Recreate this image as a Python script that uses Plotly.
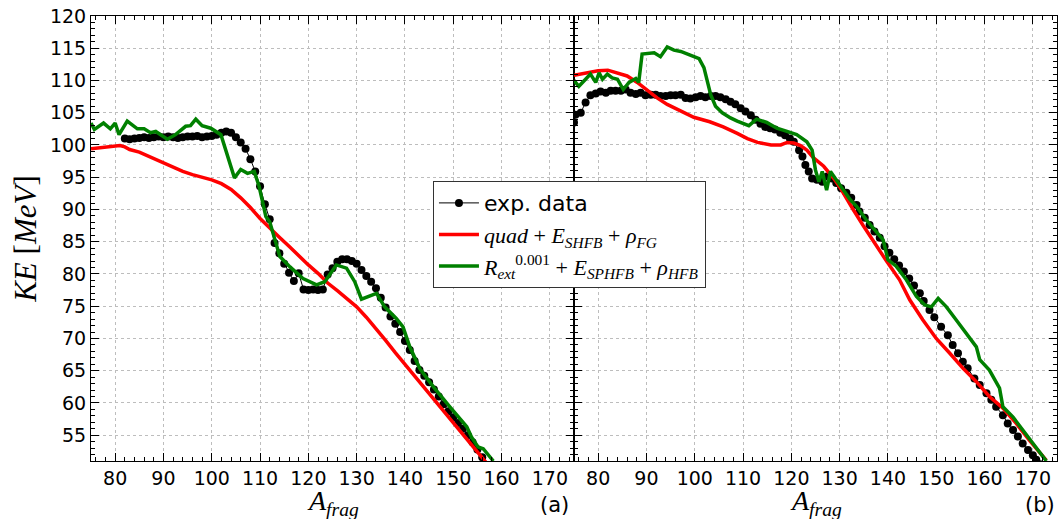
import plotly.graph_objects as go

# ---------------- data: panel (a) ----------------
a_exp_A = [82, 83, 84, 85, 86, 87, 88, 89, 90, 91, 92, 93, 94, 95, 96, 97, 98, 99, 100,
           101, 102, 103, 104, 105, 106, 107, 108, 109, 110, 111, 112, 113, 114, 115, 116,
           117, 118, 119, 120, 121, 122, 123, 124, 125, 126, 127, 128, 129, 130, 131, 132,
           133, 134, 135, 136, 137, 138, 139, 140, 141, 142, 143, 144, 145, 146, 147, 148,
           149, 150, 151, 152, 153, 154, 155, 156]
a_exp_KE = [101.0, 100.9, 101.0, 101.1, 101.2, 101.1, 101.2, 101.3, 101.2, 101.3, 101.2,
            101.1, 101.2, 101.3, 101.3, 101.4, 101.2, 101.3, 101.4, 101.6, 101.9, 102.1,
            101.9, 101.2, 100.4, 99.4, 97.8, 95.9, 93.6, 90.8, 88.5, 84.8, 83.2, 81.6, 80.2,
            78.9, 80.1, 77.6, 77.5, 77.6, 77.5, 77.6, 79.9, 80.9, 81.9, 82.3, 82.3, 82.0,
            81.6, 80.6, 79.7, 78.8, 77.8, 76.3, 74.8, 73.4, 72.3, 71.0, 69.6, 68.2, 66.5,
            65.1, 64.2, 63.2, 62.1, 61.0, 59.8, 58.7, 57.8, 56.9, 56.0, 55.0, 53.9, 52.8, 51.6]

a_red_A = [75, 77, 79, 81, 82, 83, 85, 87, 89, 90, 92, 94, 96, 98, 100, 102, 104, 106, 108,
           110, 112, 114, 116, 118, 120, 122, 124, 126, 128, 130, 132, 134, 136, 138, 140,
           142, 144, 146, 148, 150, 152, 154, 156, 157]
a_red_KE = [99.4, 99.6, 99.8, 99.9, 99.7, 99.3, 98.9, 98.2, 97.6, 97.2, 96.5, 95.9, 95.4,
            95.0, 94.6, 94.0, 93.1, 91.8, 90.3, 88.6, 87.1, 85.7, 84.3, 82.8, 81.4, 80.1,
            78.6, 77.4, 76.2, 74.9, 73.3, 71.6, 69.7, 67.8, 66.0, 64.2, 62.4, 60.6, 58.8,
            57.0, 55.2, 53.4, 51.5, 50.6]

a_grn_A = [75, 75.7, 77.6, 79, 80, 80.8, 82.5, 84.6, 86, 87.3, 88.4, 90.8, 92.5, 94.6,
           95.6, 96.7, 98, 99.8, 101.9, 104.7, 106, 107.4, 108.8, 109.8, 111.2, 112, 114.1,
           116.2, 118.9, 121.7, 123.4, 125.8, 127.9, 129.6, 131, 134.1, 135.8, 138.2,
           139.6, 141.0, 143.1, 145.9, 149.3, 152.8, 153.8, 155.1, 156.2, 157.6, 158.3]
a_grn_KE = [103.4, 102.4, 103.4, 102.5, 103.4, 101.6, 103.7, 102.5, 102.5, 101.9, 102.1,
            100.9, 101.6, 102.9, 103.0, 104.0, 103.0, 102.6, 101.6, 94.9, 96.2, 95.6, 95.9,
            93.6, 88.9, 88.1, 82.7, 81.1, 79.3, 78.3, 78.8, 81.4, 80.9, 78.8, 76.1, 77.0,
            74.9, 73.1, 71.8, 68.7, 65.3, 62.5, 59.4, 56.3, 54.7, 53.2, 52.9, 51.6, 51.0]

# ---------------- data: panel (b) ----------------
b_exp_A = [75.0, 75.3, 76.4, 77.4, 78.4, 79.5, 80.5, 81.6, 82.6, 83.6, 84.7, 85.7, 86.7,
           87.8, 88.8, 89.8, 90.9, 91.9, 92.9, 94.0, 95.0, 96.0, 97.1, 98.1, 99.1, 100.2,
           101.2, 102.2, 103.3, 104.3, 105.3, 106.4, 107.4, 108.4, 109.5, 110.5, 111.6,
           112.6, 113.6, 114.6, 115.6, 116.6, 117.7, 118.7, 119.7, 120.5, 121.6, 122.3,
           122.9, 123.6, 124.3, 125.3, 126.4, 127.4, 128.4, 129.3, 130.3, 131.4, 132.4,
           133.5, 134.1, 135.2, 136.2, 137.2, 138.3, 139.3, 140.3, 141.3, 142.3, 143.3,
           144.4, 145.4, 146.6, 147.4, 148.6, 149.6, 151.0, 152.4, 153.4, 154.5, 155.5,
           156.5, 157.9, 159.0, 160.4, 161.4, 162.4, 163.8, 164.8, 165.9, 166.9, 167.9,
           169.0, 170.0, 170.7, 171.5]
b_exp_KE = [103.5, 104.7, 105.0, 106.6, 107.7, 108.0, 108.3, 108.1, 108.4, 108.4, 108.4,
            108.6, 108.1, 107.9, 108.1, 107.7, 107.8, 107.8, 107.6, 107.6, 107.7, 107.7,
            107.8, 107.3, 107.2, 107.4, 107.6, 107.4, 107.6, 107.6, 107.4, 107.1, 106.7,
            106.3, 105.7, 105.2, 104.6, 103.9, 103.3, 102.8, 102.6, 102.4, 101.9, 101.5,
            101.0, 100.5, 99.2, 98.2, 96.9, 95.9, 94.8, 94.6, 94.3, 95.1, 94.8, 94.1, 93.3,
            92.6, 91.8, 90.7, 89.7, 88.7, 87.6, 86.6, 85.6, 84.3, 83.3, 82.3, 81.3, 80.4,
            79.3, 78.2, 77.0, 75.8, 74.4, 73.3, 71.8, 70.5, 69.0, 67.7, 66.4, 65.4, 63.8,
            62.8, 61.5, 60.5, 59.4, 58.1, 56.8, 55.8, 54.8, 53.7, 52.7, 51.9, 51.2, 50.5]

b_red_A = [75.0, 77.8, 80.0, 82.0, 84.0, 86.0, 88.1, 90.2, 92.2, 94.3, 97.1, 99.8, 103.1,
           105.9, 108.8, 110.9, 113.0, 115.8, 117.8, 119.1, 120.5, 121.9, 123.2, 124.6,
           126.7, 128.8, 130.0, 131.0, 132.8, 134.8, 136.9, 139.7, 142.4, 144.5, 147.2,
           150.0, 152.8, 155.5, 158.3, 161.0, 163.8, 166.6, 169.3, 172.8]
b_red_KE = [110.8, 111.2, 111.5, 111.6, 111.2, 110.7, 109.7, 108.5, 107.3, 106.3, 105.3,
            104.3, 103.6, 102.8, 101.8, 101.0, 100.4, 100.0, 100.0, 100.4, 100.3, 99.9,
            99.2, 98.0, 96.7, 94.8, 93.5, 92.2, 90.0, 87.6, 85.1, 82.0, 79.1, 76.0, 72.9,
            70.0, 67.7, 65.4, 63.3, 61.0, 59.2, 56.8, 54.2, 51.1]

b_grn_A = [75.0, 76.0, 77.4, 78.4, 79.5, 80.2, 80.9, 81.9, 82.9, 84.0, 85.2, 86.4, 87.8,
           88.4, 89.1, 91.6, 92.9, 94.3, 95.7, 97.1, 98.8, 100.9, 101.9, 102.6, 103.3,
           104.3, 105.7, 107.4, 108.8, 111.2, 112.8, 114.9, 117.0, 119.1, 121.1, 123.2,
           124.3, 125.0, 125.7, 126.4, 127.3, 128.1, 129.5, 130.8, 132.2, 133.5, 135.5,
           137.6, 139.0, 140.0, 141.7, 143.8, 145.9, 147.6, 149.0, 150.4, 150.7, 152.1,
           154.1, 156.2, 158.3, 159.0, 161.0, 163.1, 163.8, 165.9, 167.9, 170.0, 172.1,
           172.8]
b_grn_KE = [110.0, 109.1, 110.2, 111.0, 109.7, 111.2, 110.2, 111.0, 110.4, 110.2, 108.6,
            109.7, 110.3, 109.7, 114.1, 114.3, 113.7, 115.2, 114.7, 114.5, 114.0, 113.4,
            112.0, 109.9, 107.8, 106.0, 105.0, 104.2, 103.7, 103.0, 104.0, 103.5, 102.6,
            102.1, 101.6, 100.5, 99.2, 96.1, 94.3, 95.9, 93.0, 95.9, 94.3, 93.0, 91.5, 90.5,
            88.4, 86.6, 85.3, 82.2, 81.2, 79.1, 76.5, 75.2, 74.9, 76.2, 76.0, 74.9, 72.9,
            70.8, 68.7, 66.7, 65.1, 62.3, 59.4, 57.8, 55.8, 53.7, 51.6, 51.0]

names = ["<span style='font-family:DejaVu Sans'>exp. data</span>",
         "<i>quad</i> + <i>E</i><sub><i>SHFB</i></sub> + <i>ρ</i><sub><i>FG</i></sub>",
         "<i>R</i><sub><i>ext</i></sub><sup>0.001</sup> + <i>E</i><sub><i>SPHFB</i></sub> + <i>ρ</i><sub><i>HFB</i></sub>"]
x_ticks = [80, 90, 100, 110, 120, 130, 140, 150, 160, 170]
y_ticks = [55, 60, 65, 70, 75, 80, 85, 90, 95, 100, 105, 110, 115, 120]

RED = "#ff0000"
GREEN = "#008000"

fig = go.Figure()

for xa, (eA, eK, rA, rK, gA, gK) in zip(
        ["x", "x2"],
        [(a_exp_A, a_exp_KE, a_red_A, a_red_KE, a_grn_A, a_grn_KE),
         (b_exp_A, b_exp_KE, b_red_A, b_red_KE, b_grn_A, b_grn_KE)]):
    show = xa == "x"
    ya = "y" if xa == "x" else "y2"
    fig.add_trace(go.Scatter(x=eA, y=eK, mode="lines+markers", name=names[0],
                             line=dict(color="black", width=1),
                             marker=dict(color="black", size=8),
                             xaxis=xa, yaxis=ya, showlegend=show, legendrank=1))
    fig.add_trace(go.Scatter(x=rA, y=rK, mode="lines", name=names[1],
                             line=dict(color=RED, width=3.5),
                             xaxis=xa, yaxis=ya, showlegend=show, legendrank=2))
    fig.add_trace(go.Scatter(x=gA, y=gK, mode="lines", name=names[2],
                             line=dict(color=GREEN, width=3.5),
                             xaxis=xa, yaxis=ya, showlegend=show, legendrank=3))

tickfont = dict(family="DejaVu Sans", size=19, color="black")
GRID = "#bdbdbd"
xcommon = dict(range=[75, 175], tickvals=x_ticks, ticks="inside", ticklen=8,
               tickcolor="black", tickwidth=1, mirror="allticks", showline=True,
               linecolor="black", linewidth=1, showgrid=True, gridcolor=GRID,
               griddash="dot", gridwidth=1, zeroline=False, tickfont=tickfont,
               minor=dict(ticks="inside", ticklen=4, dtick=2, tick0=0, tickcolor="black",
                          showgrid=False))
ycommon = dict(range=[51, 120], tickvals=y_ticks, ticks="inside", ticklen=8,
               tickcolor="black", tickwidth=1, mirror="allticks", showline=True,
               linecolor="black", linewidth=1, showgrid=True, gridcolor=GRID,
               griddash="dot", gridwidth=1, zeroline=False, tickfont=tickfont,
               minor=dict(ticks="inside", ticklen=4, dtick=1, tick0=0, tickcolor="black",
                          showgrid=False))

fig.update_layout(
    width=1058, height=519,
    margin=dict(l=91, r=1, t=16, b=58),
    paper_bgcolor="white", plot_bgcolor="white",
    xaxis=dict(domain=[0, 0.5], anchor="y", **xcommon),
    xaxis2=dict(domain=[0.5, 1], anchor="y2", **xcommon),
    yaxis=dict(anchor="x", **ycommon),
    yaxis2=dict(anchor="x2", matches="y", showticklabels=False, **ycommon),
    legend=dict(x=0.354, y=0.629, xanchor="left", yanchor="top",
                bgcolor="white", bordercolor="#333333", borderwidth=1,
                font=dict(family="Liberation Serif", size=22, color="black"),
                itemwidth=40, tracegroupgap=0),
    showlegend=True,
)

fig.add_annotation(text="<i>KE</i> [<i>MeV</i>]", xref="paper", yref="paper",
                   x=-0.068, y=0.5, xanchor="center", yanchor="middle", textangle=-90,
                   showarrow=False, font=dict(family="Liberation Serif", size=31, color="black"))
for cx in [0.25, 0.75]:
    fig.add_annotation(text="<i>A</i><sub><i>frag</i></sub>", xref="paper", yref="paper",
                       x=cx, y=-0.05, xanchor="center", yanchor="top", showarrow=False,
                       font=dict(family="Liberation Serif", size=28, color="black"))
fig.add_annotation(text="(a)", xref="paper", yref="paper", x=0.48, y=-0.099,
                   xanchor="center", yanchor="middle", showarrow=False,
                   font=dict(family="DejaVu Sans", size=21, color="black"))
fig.add_annotation(text="(b)", xref="paper", yref="paper", x=0.982, y=-0.099,
                   xanchor="center", yanchor="middle", showarrow=False,
                   font=dict(family="DejaVu Sans", size=21, color="black"))

fig.write_html("out.html", config={"displayModeBar": False},
               post_script="document.body.style.margin='0';document.body.style.padding='0';"
                           "document.documentElement.style.overflow='hidden';")
